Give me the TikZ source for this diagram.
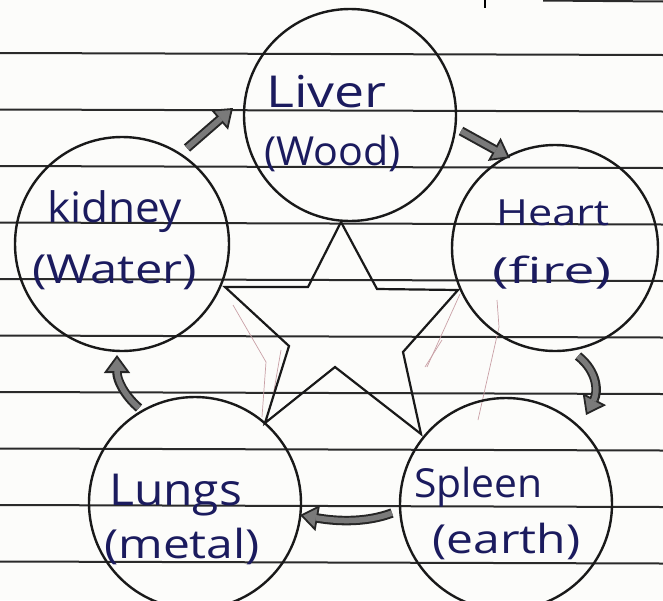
\documentclass[tikz,border=0pt]{standalone}
\usepackage{fontspec}
\setmainfont{Open Sans}
\usetikzlibrary{arrows.meta}
\definecolor{ink}{HTML}{1B1B5E}
\definecolor{paper}{HTML}{FCFCFA}
\definecolor{rulecol}{HTML}{2A2A2A}
\definecolor{pencil}{HTML}{C9A0A6}
\definecolor{arrowfill}{HTML}{7A7A7A}
\begin{document}
\begin{tikzpicture}[x=1pt,y=-1pt,
  organ/.style={circle, draw=black!90, line width=2.4pt, minimum size=#1, inner sep=0pt},
  lbl/.style={text=ink, anchor=base west, inner sep=0pt, font=\fontsize{#1}{#1}\selectfont},
  ruling/.style={draw=rulecol, line width=2pt},
  sketch/.style={draw=pencil, line width=0.7pt},
  starline/.style={draw=black!90, line width=2.2pt, line join=miter},
  flow/.style={draw=arrowfill, line width=5.5pt, shorten >=16pt,
     preaction={draw=black!85, line width=9.5pt, shorten >=0pt,
        -{Triangle[length=18pt,width=26pt,fill=arrowfill,line width=1.8pt]}}}
]
\useasboundingbox (0,0) rectangle (663,600);
\fill[paper] (0,0) rectangle (663,600);

% ruled paper
\foreach \k in {0,...,9}{
  \draw[ruling] (0,{53+56.5*\k}) -- (663,{55+56.5*\k});
}
\draw[ruling] (543,0.5) -- (663,1.5);
\draw[black, line width=2.2pt] (485,0) -- (485,8);

% faint pencil guide lines
\draw[sketch] (233,305) -- (266,362) -- (262,417);
\draw[sketch] (281,350) -- (272,402);
\draw[sketch] (460,294) -- (427,367);
\draw[sketch] (497,300) -- (499,327) -- (478,420);
\draw[sketch] (425,367) -- (442,340);

% organs
\node[organ=212pt] (liver)  at (350,115) {};
\node[organ=206pt] (heart)  at (555,248) {};
\node[organ=212pt] (spleen) at (506,504) {};
\node[organ=212pt] (lungs)  at (195,503) {};
\node[organ=214pt] (kidney) at (122,244) {};

% star
\coordinate (s1)  at (225,287);
\coordinate (s2)  at (308,287);
\coordinate (s3)  at (341,222);
\coordinate (s4)  at (377,289);
\coordinate (s5)  at (458,290);
\coordinate (s6)  at (403,352);
\coordinate (s7)  at (421,434);
\coordinate (s8)  at (335,367);
\coordinate (s9)  at (265,423);
\coordinate (s10) at (289,346);
\draw[starline] (s1) -- (s2) -- (s3) -- (s4) -- (s5) -- (s6) -- (s7) -- (s8) -- (s9) -- (s10) -- cycle;

% labels
\node[lbl=44] (liverA)  at (266,107) {\scalebox{1.22}[1]{Liver}};
\node[lbl=40] (liverB)  at (264,165) {\scalebox{1.03}[1]{(Wood)}};
\node[lbl=42] (kidneyA) at (47,222)  {\scalebox{1.05}[1]{kidney}};
\node[lbl=40] (kidneyB) at (32,283)  {\scalebox{1.22}[1]{(Water)}};
\node[lbl=36] (heartA)  at (496,225) {\scalebox{1.2}[1]{Heart}};
\node[lbl=36] (heartB)  at (492,283) {\scalebox{1.55}[1]{(fire)}};
\node[lbl=44] (lungsA)  at (109,505) {\scalebox{1.09}[1]{Lungs}};
\node[lbl=40] (lungsB)  at (104,558) {\scalebox{1.2}[1]{(metal)}};
\node[lbl=40] (spleenA) at (414,497) {\scalebox{1.02}[1]{Spleen}};
\node[lbl=40] (spleenB) at (432,553) {\scalebox{1.2}[1]{(earth)}};

% cycle arrows
\coordinate (a1s) at (187,148); \coordinate (a1e) at (233,108);
\coordinate (a2s) at (461,131); \coordinate (a2e) at (510,158);
\coordinate (a3s) at (578,356); \coordinate (a3e) at (586,415);
\coordinate (a4s) at (392,513); \coordinate (a4e) at (300,515);
\coordinate (a5s) at (139,408); \coordinate (a5e) at (117,355);
\draw[flow] (a1s) -- (a1e);
\draw[flow] (a2s) -- (a2e);
\draw[flow] (a3s) .. controls (598,372) and (598,392) .. (a3e);
\draw[flow] (a4s) .. controls (368,522) and (340,522) .. (a4e);
\draw[flow] (a5s) .. controls (124,395) and (117,380) .. (a5e);
\end{tikzpicture}
\end{document}
